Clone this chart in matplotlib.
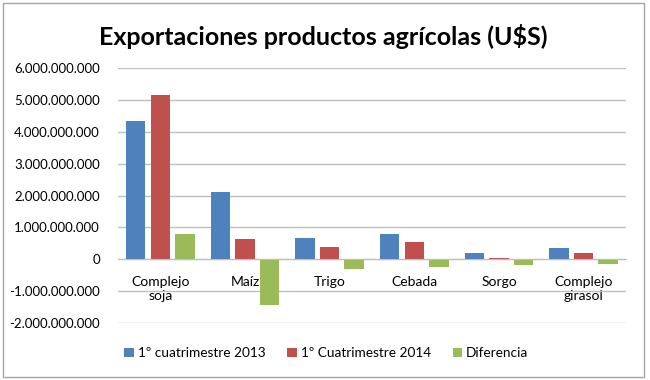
import matplotlib
matplotlib.use('Agg')
import matplotlib.pyplot as plt
from matplotlib.ticker import FuncFormatter
from matplotlib.patches import Rectangle
import numpy as np

categorias = ['Complejo\nsoja', 'Maíz', 'Trigo', 'Cebada', 'Sorgo', 'Complejo\ngirasol']
cuat_2013 = [4.35e9, 2.10e9, 0.68e9, 0.79e9, 0.21e9, 0.36e9]
cuat_2014 = [5.14e9, 0.65e9, 0.37e9, 0.54e9, 0.03e9, 0.21e9]
diferencia = [0.79e9, -1.45e9, -0.31e9, -0.25e9, -0.18e9, -0.15e9]
series_names = ['1º cuatrimestre 2013', '1º Cuatrimestre 2014', 'Diferencia']
colores = ['#4F81BD', '#C0504D', '#9BBB59']

plt.rcParams['font.family'] = ['Lato', 'DejaVu Sans']


def fmt_miles(v, pos):
    s = f'{abs(int(round(v))):,}'.replace(',', '.')
    return ('-' if v < 0 else '') + s


fig = plt.figure(figsize=(6.5, 3.8), dpi=100)
ax = fig.add_axes([0.1815, 0.15, 0.7815, 0.671])

x = np.arange(len(categorias))
paso = 0.29
ancho = 0.23
for k, (vals, nom, col) in enumerate(zip([cuat_2013, cuat_2014, diferencia], series_names, colores)):
    ax.bar(x + (k - 1) * paso, vals, ancho, color=col, label=nom, zorder=3)

ax.set_xlim(-0.5, len(categorias) - 0.5)
ax.set_ylim(-2e9, 6e9)
ax.set_yticks(np.arange(-2e9, 6.1e9, 1e9))
ax.yaxis.set_major_formatter(FuncFormatter(fmt_miles))
ax.grid(axis='y', color='#BFBFBF', linewidth=1, zorder=0)
ax.set_xticks(x)
ax.set_xticklabels(categorias, fontsize=10, linespacing=1.75)
ax.tick_params(axis='x', length=0, pad=12)
ax.tick_params(axis='y', length=0, pad=13, labelsize=9.5)
for s in ['top', 'right', 'left']:
    ax.spines[s].set_visible(False)
ax.spines['bottom'].set_position(('data', 0))
ax.spines['bottom'].set_color('#BFBFBF')
ax.spines['bottom'].set_zorder(4)

fig.text(0.497, 0.905, 'Exportaciones productos agrícolas (U$S)', ha='center', va='center',
         fontsize=18, fontweight='bold')

fig.legend(loc='center', bbox_to_anchor=(0.502, 0.07), ncol=3, frameon=False,
           fontsize=9.8, handlelength=0.7, handleheight=0.7, handletextpad=0.3,
           columnspacing=1.6)

fig.patches.append(Rectangle((0.005, 0.008), 0.985, 0.985, transform=fig.transFigure,
                             fill=False, edgecolor='#A6A6A6', linewidth=1))

fig.savefig('out.png', dpi=100)
